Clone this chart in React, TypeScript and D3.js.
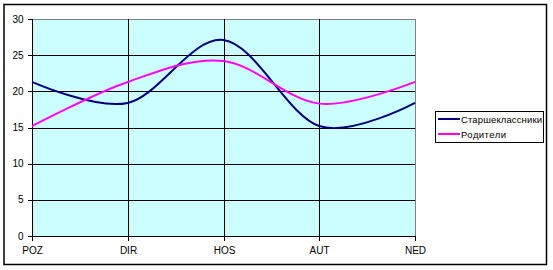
import React from "react";
import * as d3 from "d3";

const categories = ["POZ", "DIR", "HOS", "AUT", "NED"];
const seniors = [21.3, 18.4, 27.1, 15.2, 18.4];
const parents = [15.2, 21.3, 24.2, 18.3, 21.3];
const yTicks = [0, 5, 10, 15, 20, 25, 30];
const seriesNames = ["Старшеклассники", "Родители"];
const seriesColors = ["#000080", "#FF00FF"];
const legendTextLengths = [81, 45];

const W = 553;
const H = 270;
const plot = { left: 32, right: 415, top: 19, bottom: 236 };
const FONT = "'Liberation Sans', Arial, sans-serif";

export default function App() {
  const x = d3
    .scalePoint<string>()
    .domain(categories)
    .range([plot.left, plot.right]);
  const y = d3.scaleLinear().domain([0, 30]).range([plot.bottom, plot.top]);
  const line = d3
    .line<number>()
    .x((_, i) => x(categories[i]) as number)
    .y((d) => y(d))
    .curve(d3.curveCardinal.tension(0));
  const series = [seniors, parents];

  return (
    <svg
      width={W}
      height={H}
      style={{ position: "absolute", left: 0, top: 0 }}
      fontFamily={FONT}
    >
      <rect x={0} y={0} width={W} height={H} fill="#fff" />
      <rect
        x={4}
        y={4.5}
        width={542.5}
        height={260}
        fill="#fff"
        stroke="#000"
        strokeWidth={1.5}
      />
      <rect
        x={plot.left}
        y={plot.top}
        width={plot.right - plot.left}
        height={plot.bottom - plot.top}
        fill="#CCFFFF"
      />
      {yTicks.map((t) => (
        <line
          key={"h" + t}
          x1={plot.left}
          x2={plot.right}
          y1={Math.round(y(t)) + 0.5}
          y2={Math.round(y(t)) + 0.5}
          stroke={t === 30 ? "#808080" : "#000"}
          strokeWidth={1}
        />
      ))}
      {categories.map((c, i) => {
        const xx = Math.round(x(c) as number) + 0.5;
        return (
          <g key={"v" + c}>
            <line
              x1={xx}
              x2={xx}
              y1={plot.top}
              y2={plot.bottom}
              stroke={i === categories.length - 1 ? "#808080" : "#000"}
            />
            <line x1={xx} x2={xx} y1={plot.bottom} y2={plot.bottom + 5} stroke="#000" />
            <text
              x={xx}
              y={253.5}
              fontSize={10}
              textAnchor="middle"
              fill="#000"
            >
              {c}
            </text>
          </g>
        );
      })}
      <line
        x1={plot.left + 0.5}
        x2={plot.left + 0.5}
        y1={plot.top}
        y2={plot.bottom + 1}
        stroke="#000"
      />
      {yTicks.map((t) => (
        <g key={"yt" + t}>
          <line
            x1={plot.left - 4}
            x2={plot.left}
            y1={Math.round(y(t)) + 0.5}
            y2={Math.round(y(t)) + 0.5}
            stroke="#000"
          />
          <text
            x={23.5}
            y={y(t) + 3.5}
            fontSize={10}
            textAnchor="end"
            fill="#000"
          >
            {t}
          </text>
        </g>
      ))}
      {series.map((s, i) => (
        <path
          key={"s" + i}
          d={line(s) ?? ""}
          fill="none"
          stroke={seriesColors[i]}
          strokeWidth={2}
        />
      ))}
      <rect x={435.5} y={111.5} width={108} height={31} fill="#fff" stroke="#000" />
      {seriesNames.map((n, i) => (
        <g key={"l" + n}>
          <line
            x1={438}
            x2={460}
            y1={119 + i * 15}
            y2={119 + i * 15}
            stroke={seriesColors[i]}
            strokeWidth={2}
          />
          <text
            x={461}
            y={122.5 + i * 15}
            fontSize={9.5}
            fill="#000"
            textLength={legendTextLengths[i]}
            lengthAdjust="spacing"
          >
            {n}
          </text>
        </g>
      ))}
    </svg>
  );
}
